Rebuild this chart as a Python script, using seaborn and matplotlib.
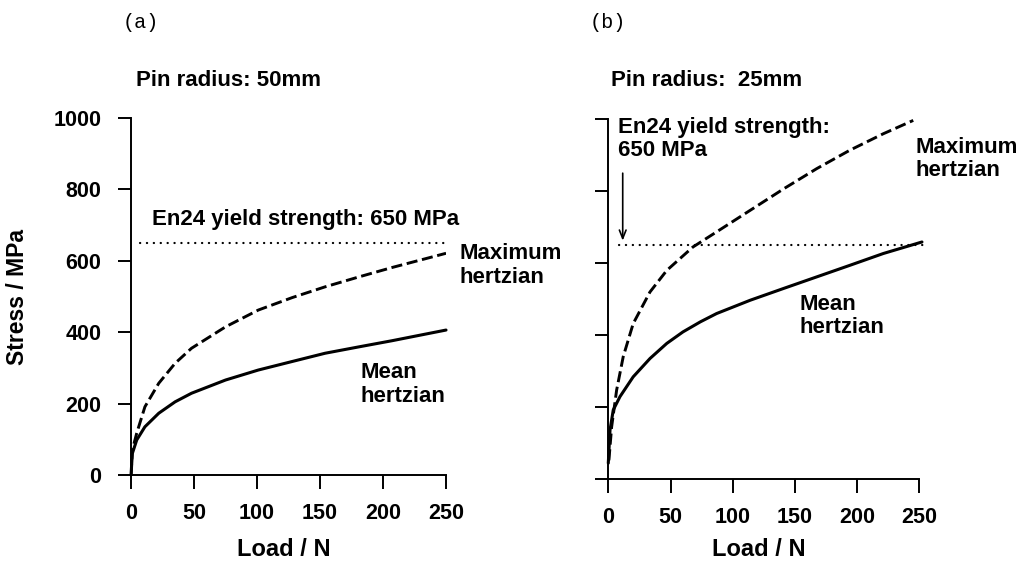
import matplotlib
matplotlib.use("Agg")
import matplotlib.pyplot as plt
import seaborn as sns
import pandas as pd

# ---- data ----
# (a) pin radius 50 mm
load_a = [0, 1, 4.5, 11, 22, 35, 48, 75, 101, 128, 154, 181, 207, 250]
mean_a = [0, 60, 98, 135, 173, 205, 229, 266, 294, 318, 341, 359, 376, 406]
max_a = [0, 70, 117, 191, 257, 313, 355, 415, 462, 497, 527, 555, 581, 621]

# (b) pin radius 25 mm
load_b_mean = [0, 1.4, 4, 9.4, 20, 33.5, 47, 60, 74, 87, 114, 141, 167.5, 194, 221, 252]
mean_b = [44, 136, 192, 229, 284, 335, 377, 409, 437, 460, 497, 530, 562, 594, 627, 659]
load_b_max = [0.5, 2.7, 6.7, 12, 20, 33.5, 47, 68, 87, 114, 141, 167.5, 194, 221, 245]
max_b = [52, 145, 247, 340, 432, 520, 580, 645, 687, 747, 807, 863, 914, 960, 997]

yield_strength = 650
x_ticks = [0, 50, 100, 150, 200, 250]
y_ticks = [0, 200, 400, 600, 800, 1000]

sns.set_theme(style="ticks")
plt.rcParams['font.family'] = ['Liberation Sans', 'DejaVu Sans']
plt.rcParams['font.weight'] = 'bold'
plt.rcParams['axes.linewidth'] = 1.4
for key in ['text.color', 'axes.labelcolor', 'xtick.color', 'ytick.color', 'axes.edgecolor']:
    plt.rcParams[key] = 'black'

fig = plt.figure(figsize=(10.23, 5.65), dpi=100)
ax_a = fig.add_axes([0.1281, 0.1593, 0.3079, 0.6319])
ax_b = fig.add_axes([0.5946, 0.1522, 0.3042, 0.6366])

solid = dict(color='black', linewidth=2.2, legend=False)
dashed = dict(color='black', linewidth=2.1, linestyle=(0, (3.8, 1.6)), legend=False)
dotted = dict(color='black', linewidth=1.6, linestyle=(0, (0.1, 3.0)),
              dash_capstyle='round', legend=False)


def draw_panel(ax, load_mean, mean, load_max, mx, dot_from, dot_to):
    sns.lineplot(data=pd.DataFrame({'load': load_mean, 'stress': mean}),
                 x='load', y='stress', ax=ax, clip_on=False, **solid)
    sns.lineplot(data=pd.DataFrame({'load': load_max, 'stress': mx}),
                 x='load', y='stress', ax=ax, **dashed)
    sns.lineplot(x=[dot_from, dot_to], y=[yield_strength, yield_strength], ax=ax,
                 clip_on=False, **dotted)

    ax.set_xlim(0, 250)
    ax.set_ylim(0, 1000)
    ax.set_xticks(x_ticks)
    ax.set_yticks(y_ticks)
    ax.set_xlabel('')
    ax.set_ylabel('')
    sns.despine(ax=ax)
    ax.tick_params(axis='x', direction='out', length=10, width=1.4, pad=10,
                   labelsize=15.5, colors='black')
    ax.tick_params(axis='y', direction='out', length=9.5, width=1.4, pad=12,
                   labelsize=15.5, colors='black')
    for lab in ax.get_xticklabels() + ax.get_yticklabels():
        lab.set_fontweight('bold')


draw_panel(ax_a, load_a, mean_a, load_a, max_a, 7, 250)
draw_panel(ax_b, load_b_mean, mean_b, load_b_max, max_b, 9, 254)
ax_b.tick_params(axis='y', labelleft=False)

txt = dict(fontsize=16, fontweight='bold', color='black', va='center', ha='left',
           linespacing=1.15)

# panel (a) annotations
ax_a.text(16.5, 715, 'En24 yield strength: 650 MPa', **txt)
ax_a.text(261, 587, 'Maximum\nhertzian', clip_on=False, **txt)
ax_a.text(182, 253, 'Mean\nhertzian', **txt)

# panel (b) annotations
ax_b.text(8, 946, 'En24 yield strength:\n650 MPa', **txt)
ax_b.annotate('', xy=(11.6, 655), xytext=(11.6, 858),
              arrowprops=dict(arrowstyle='->,head_length=0.5,head_width=0.2',
                              lw=1.2, color='black'))
ax_b.text(246.5, 889, 'Maximum\nhertzian', clip_on=False, **txt)
ax_b.text(154, 453, 'Mean\nhertzian', **txt)

# titles and axis labels
fig.text(123 / 1023, 1 - 23 / 565, '(a)', family='Liberation Mono', fontweight='normal',
         fontsize=14.5, va='center', ha='left')
fig.text(590 / 1023, 1 - 23 / 565, '(b)', family='Liberation Mono', fontweight='normal',
         fontsize=14.5, va='center', ha='left')
fig.text(136 / 1023, 1 - 81 / 565, 'Pin radius: 50mm', fontsize=16, fontweight='bold',
         va='center', ha='left')
fig.text(611 / 1023, 1 - 81 / 565, 'Pin radius:  25mm', fontsize=16, fontweight='bold',
         va='center', ha='left')
fig.text(18 / 1023, 1 - 297 / 565, 'Stress / MPa', fontsize=16.5, fontweight='bold',
         rotation=90, va='center', ha='center')
fig.text(284 / 1023, 1 - 550 / 565, 'Load / N', fontsize=17, fontweight='bold',
         va='center', ha='center')
fig.text(759 / 1023, 1 - 550 / 565, 'Load / N', fontsize=17, fontweight='bold',
         va='center', ha='center')

fig.savefig('out.png', dpi=100, facecolor='white')
